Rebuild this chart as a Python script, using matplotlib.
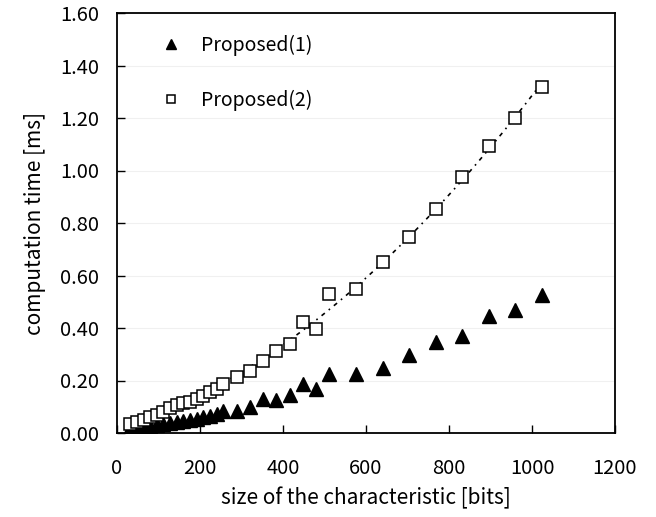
import numpy as np
import matplotlib
matplotlib.use("Agg")
import matplotlib.pyplot as plt

plt.rcParams["font.family"] = ["Noto Sans CJK JP", "DejaVu Sans"]

# Proposed(1): triangles
bits_p1 = [32, 48, 64, 80, 96, 112, 128, 144, 160, 176, 192, 208, 224, 240, 256,
           288, 320, 352, 384, 416, 448, 480, 512, 576, 640, 704, 768, 832, 896, 960, 1024]
time_p1 = [0.020, 0.022, 0.025, 0.028, 0.031, 0.034, 0.038, 0.042, 0.046, 0.050, 0.055, 0.060, 0.066, 0.072, 0.082,
           0.084, 0.098, 0.128, 0.126, 0.145, 0.188, 0.168, 0.224, 0.224, 0.249, 0.297, 0.348, 0.371, 0.446, 0.470, 0.525]

# Proposed(2): squares
bits_p2 = [32, 48, 64, 80, 96, 112, 128, 144, 160, 176, 192, 208, 224, 240, 256,
           288, 320, 352, 384, 416, 448, 480, 512, 576, 640, 704, 768, 832, 896, 960, 1024]
time_p2 = [0.035, 0.042, 0.050, 0.060, 0.070, 0.081, 0.094, 0.105, 0.113, 0.120, 0.130, 0.140, 0.155, 0.168, 0.185,
           0.214, 0.238, 0.274, 0.313, 0.338, 0.422, 0.398, 0.528, 0.550, 0.650, 0.748, 0.852, 0.975, 1.095, 1.200, 1.318]

xticks = [0, 200, 400, 600, 800, 1000, 1200]
yticks = [0.0, 0.2, 0.4, 0.6, 0.8, 1.0, 1.2, 1.4, 1.6]

fig = plt.figure(figsize=(6.56, 5.17), dpi=100)
ax = fig.add_axes([117 / 656, 84 / 517, 498 / 656, 420 / 517])

ax.set_axisbelow(True)
ax.grid(axis="y", color="#f0f0f0", linewidth=0.8)

# polynomial trendline for Proposed(2)
coef = np.polyfit(bits_p2, time_p2, 2)
xs = np.linspace(min(bits_p2), max(bits_p2), 200)
ax.plot(xs, np.polyval(coef, xs), color="black", linewidth=1.2,
        linestyle=(0, (2.5, 3, 1, 3)), zorder=2)

ax.plot(bits_p1, time_p1, linestyle="none", marker="^", markersize=10,
        color="black", label="Proposed(1)", zorder=3)
ax.plot(bits_p2, time_p2, linestyle="none", marker="s", markersize=8,
        markerfacecolor="white", markeredgecolor="black", markeredgewidth=1.1,
        label="Proposed(2)", zorder=4)

ax.set_xlim(0, 1200)
ax.set_ylim(0, 1.6)
ax.set_xticks(xticks)
ax.set_yticks(yticks)
ax.set_yticklabels([f"{v:.2f}" for v in yticks])
ax.tick_params(direction="in", length=6, width=1, labelsize=14.5)
ax.tick_params(axis="x", pad=18)
ax.tick_params(axis="y", pad=13)
for s in ax.spines.values():
    s.set_linewidth(1.3)

ax.set_xlabel("size of the characteristic [bits]", fontsize=15, labelpad=6)
ax.set_ylabel("computation time [ms]", fontsize=15, labelpad=10)

leg = ax.legend(loc="upper left", bbox_to_anchor=(0.035, 0.99), frameon=False,
                fontsize=14, labelspacing=1.75, handletextpad=0.5, markerscale=0.7)

fig.savefig("out.png", dpi=100)
